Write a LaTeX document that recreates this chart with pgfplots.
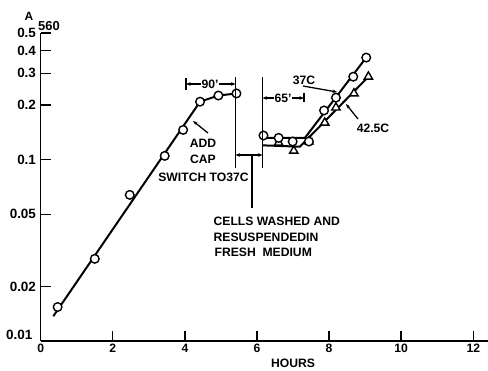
\documentclass[border=0pt]{standalone}
\usepackage{pgfplots}
\pgfplotsset{compat=1.18}
\usepackage{fontspec}
\setmainfont{Liberation Sans}
\usetikzlibrary{arrows.meta}
\begin{document}
\fontsize{12.2}{14}\selectfont\bfseries
\begin{tikzpicture}[x=1bp,y=1bp]
\path[use as bounding box] (-40.7,-29) rectangle (447.3,341);
\begin{axis}[
  at={(0,0)}, anchor=south west, scale only axis,
  width=447bp, height=308bp,
  xmin=0, xmax=12.4, ymode=log, ymin=0.01, ymax=0.5,
  axis lines=left, axis line style={-, line width=1.4bp},
  xtick={0,2,4,6,8,10,12}, xticklabels={0,2,4,6,8,10,12},
  ytick={0.02,0.05,0.1,0.2,0.3,0.4,0.5},
  yticklabels={0.02,0.05,0.1,0.2,0.3,0.4,0.5},
  minor xtick={}, minor ytick={},
  tick align=inside, major tick length=10bp,
  tick style={line width=1.4bp, black},
  xticklabel style={yshift=1.5bp},
  yticklabel style={xshift=-0.5bp, font=\fontsize{13.5}{14}\selectfont\bfseries},
  clip=false,
]
% growth before wash
\addplot[black, line width=2bp] coordinates {(0.35,0.0137) (4.42,0.209) (4.93,0.226) (5.43,0.232)};
\addplot[only marks, mark=*, mark size=4.3bp, mark options={fill=white, draw=black, line width=1.4bp}]
  coordinates {(0.47,0.0154) (1.50,0.0284) (2.47,0.064) (3.44,0.105) (3.95,0.146) (4.42,0.209) (4.93,0.226) (5.43,0.232)};
% 37C after wash
\addplot[black, line width=2bp] coordinates {(6.14,0.132) (7.33,0.132) (9.03,0.366)};
% 42.5C after wash
\addplot[black, line width=2bp] coordinates {(6.17,0.120) (7.19,0.118) (9.09,0.287)};
\addplot[only marks, mark=triangle*, mark size=4.8bp, mark options={fill=white, draw=black, line width=1.4bp}]
  coordinates {(6.60,0.124) (7.02,0.112) (7.44,0.126) (7.88,0.160) (8.19,0.194) (8.69,0.232) (9.09,0.287)};
\addplot[only marks, mark=*, mark size=4.3bp, mark options={fill=white, draw=black, line width=1.4bp}]
  coordinates {(6.18,0.136) (6.60,0.132) (6.99,0.126) (7.44,0.126) (7.86,0.187) (8.19,0.220) (8.67,0.287) (9.03,0.366)};
\end{axis}
\begin{scope}[line width=1.3bp, >={Stealth[length=4.5bp,width=3.5bp]}]
\node[anchor=east, inner sep=0, font=\fontsize{13.5}{14}\selectfont\bfseries] at (-7.7,6) {0.01};
\node[font=\fontsize{12}{12}\selectfont\bfseries] at (-11.7,325) {A};
\node[anchor=west, inner sep=0, font=\fontsize{13}{12}\selectfont\bfseries] at (-3.2,315) {560};
\node at (252.3,-22) {HOURS};
\draw (194.8,264) -- (194.8,173);
\draw (221.8,264) -- (221.8,173);
\draw[<->] (194.8,186) -- (221.8,186);
\draw (211.3,186) -- (211.3,133);
\draw (145.3,251) -- (145.3,263);
\draw[<->] (145.3,257) -- (194.8,257);
\node[fill=white, inner sep=1bp] at (169.3,257) {90'};
\draw (263.3,239) -- (263.3,248);
\draw[<->] (221.8,243) -- (263.3,243);
\node[fill=white, inner sep=1bp] at (242.3,243) {65'};
\node at (263.3,261) {37C};
\draw[->] (262.3,255) -- (296.3,249);
\node at (332.3,213) {42.5C};
\draw[->] (317.3,222) -- (305.3,237);
\draw[->] (167.3,208) -- (152.3,220);
\node at (162.3,198) {ADD};
\node at (162.3,182) {CAP};
\node at (162.8,164) {SWITCH TO37C};
\node[anchor=west, inner sep=0] at (172.3,120) {CELLS WASHED AND};
\node[anchor=west, inner sep=0] at (172.3,104) {RESUSPENDEDIN};
\node[anchor=west, inner sep=0] at (173.3,89) {FRESH\ \ MEDIUM};
\end{scope}
\end{tikzpicture}
\end{document}
